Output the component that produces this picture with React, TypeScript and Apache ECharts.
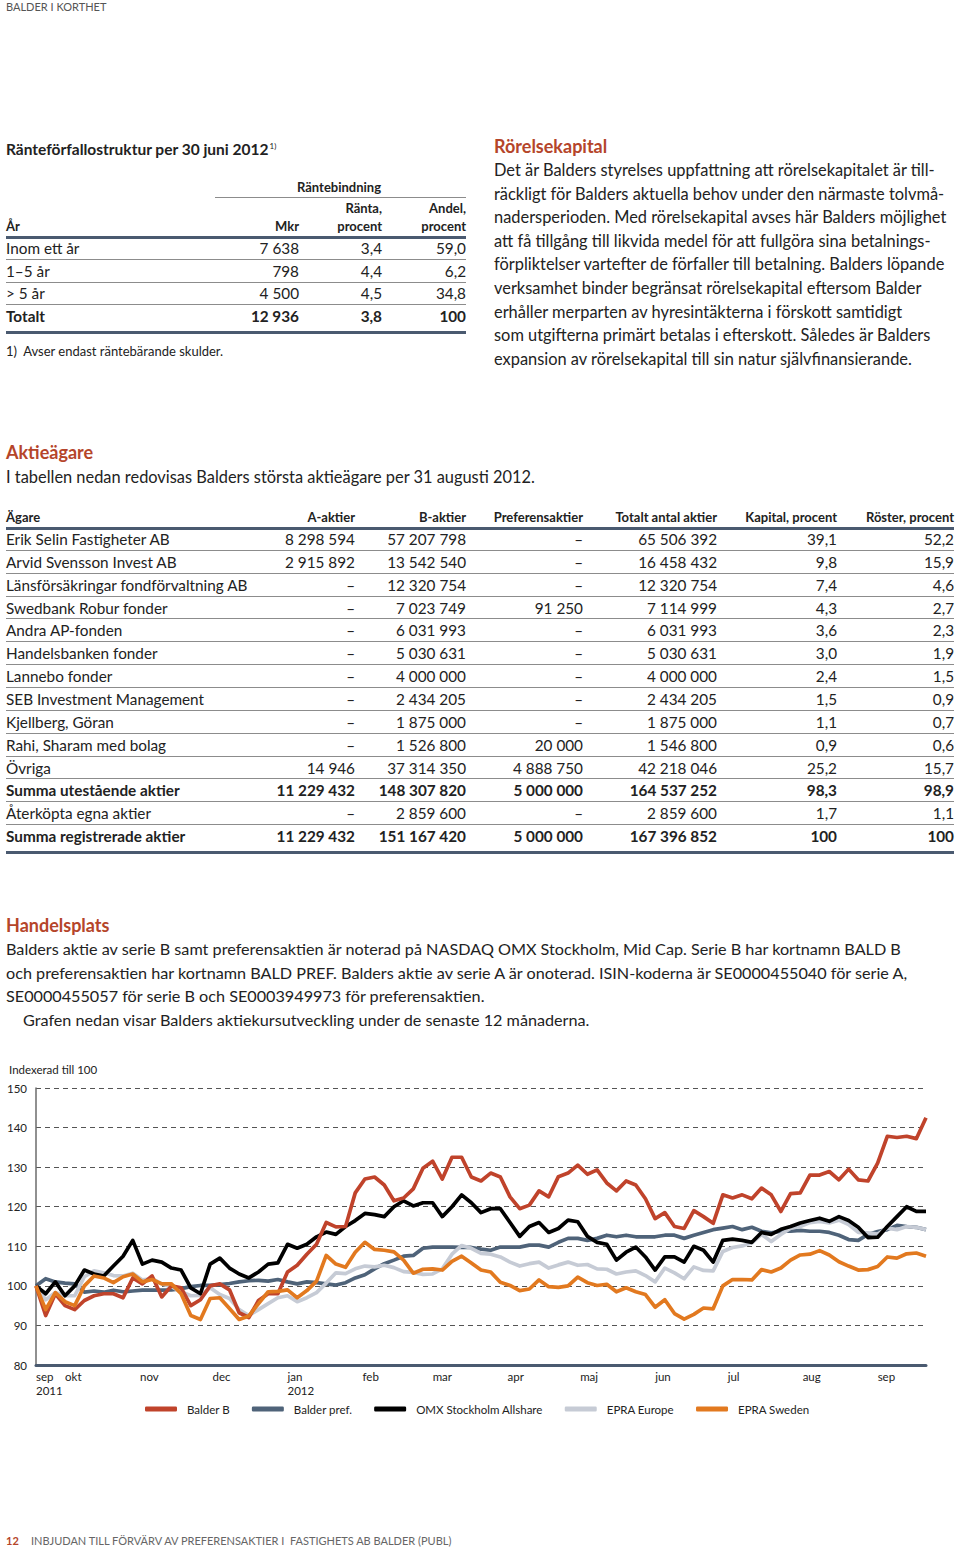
import React, { useEffect, useRef } from "react";
import * as echarts from "echarts";

const FONT = "Lato, 'Open Sans', 'DejaVu Sans', sans-serif";
const RUST = "#b5452a";
const SLATE = "#4a5a70";
const RULE = "#8c8c8c";
const INK = "#222";

// ---------- chart data (indexed to 100) ----------
const DATES = [
  "2011-09-19", "2011-09-23", "2011-09-27", "2011-10-01", "2011-10-05", "2011-10-09", "2011-10-13", "2011-10-17",
  "2011-10-21", "2011-10-25", "2011-10-29", "2011-11-02", "2011-11-06", "2011-11-10", "2011-11-14", "2011-11-18",
  "2011-11-22", "2011-11-26", "2011-11-30", "2011-12-04", "2011-12-08", "2011-12-12", "2011-12-16", "2011-12-20",
  "2011-12-24", "2011-12-28", "2012-01-01", "2012-01-05", "2012-01-09", "2012-01-13", "2012-01-17", "2012-01-21",
  "2012-01-25", "2012-01-29", "2012-02-02", "2012-02-06", "2012-02-10", "2012-02-14", "2012-02-18", "2012-02-22",
  "2012-02-26", "2012-03-01", "2012-03-05", "2012-03-09", "2012-03-13", "2012-03-17", "2012-03-21", "2012-03-25",
  "2012-03-29", "2012-04-02", "2012-04-06", "2012-04-10", "2012-04-14", "2012-04-18", "2012-04-22", "2012-04-26",
  "2012-04-30", "2012-05-04", "2012-05-08", "2012-05-12", "2012-05-16", "2012-05-20", "2012-05-24", "2012-05-28",
  "2012-06-01", "2012-06-05", "2012-06-09", "2012-06-13", "2012-06-17", "2012-06-21", "2012-06-25", "2012-06-29",
  "2012-07-03", "2012-07-07", "2012-07-11", "2012-07-15", "2012-07-19", "2012-07-23", "2012-07-27", "2012-07-31",
  "2012-08-04", "2012-08-08", "2012-08-12", "2012-08-16", "2012-08-20", "2012-08-24", "2012-08-28", "2012-09-01",
  "2012-09-05", "2012-09-09", "2012-09-13", "2012-09-17", "2012-09-21",
];

const BALDER_B = [
  100, 92.5, 98, 95, 94, 96.3, 97.5, 98, 98, 97, 102, 100.5, 102.5, 97.2, 100, 99.5,
  95, 96.5, 100, 100.5, 99, 93.2, 92, 96.3, 98, 98, 103.5, 105.2, 108, 110.5, 116, 114.9,
  115, 123.5, 127, 127.5, 125.5, 121.5, 122.2, 124.5, 129.7, 131.5, 127, 132.5, 132.5, 127.5,
  126.5, 128.5, 127.5, 122.5, 119.5, 120.4, 124, 122.5, 127.6, 128.5, 130.5, 128.2, 129.3, 126,
  124, 126.5, 125.5, 122, 117, 118.5, 115, 114.5, 119, 117.5, 115.8, 123, 122.2, 123, 122,
  124.7, 123, 118.8, 123.3, 123.5, 128, 128, 128.9, 126.8, 129.5, 126.8, 126.5, 131, 137.8,
  137.5, 137.8, 137.2, 142.5,
];

const BALDER_PREF = [
  100, 101.8, 101, 100.7, 100.5, 98.4, 98.7, 98.4, 98.9, 98.5, 98.7, 98.9, 98.9, 98.9, 99, 99.3,
  99.8, 100.1, 100.1, 100.3, 100.6, 101, 101.3, 101.4, 101.2, 101.6, 101, 100.5, 101, 100.8, 100.5, 100.2,
  100.8, 102, 102.8, 104.3, 105.6, 106.5, 107.5, 107.7, 109.5, 109.8, 109.8, 109.8, 109.7, 109.7,
  109.3, 109, 109.8, 109.8, 109.8, 110.3, 110.3, 109.8, 111, 112, 112, 111.5, 112, 112.8,
  112.4, 112.8, 112.4, 112.4, 112.4, 112.8, 112.8, 112, 112.8, 113.5, 114.2, 114.6, 115, 114.2, 114.8,
  113.8, 113.4, 113.8, 113.8, 114, 113.8, 113.8, 113.5, 112.8, 111.7, 111.5, 113, 113.7, 114.2,
  115.3, 115, 114.8, 114.2,
];

const OMX = [
  100, 98, 101, 97.5, 100, 104, 103, 102.5, 105, 107.5, 111.5, 105.5, 106.5, 106, 104.5, 104,
  99.5, 98, 105.5, 107, 104.5, 103, 102, 103.5, 105.5, 105.8, 110.5, 109.5, 110.5, 112.4, 113.6, 113,
  115, 116.5, 118.3, 118, 117.5, 120, 121.5, 120.2, 121, 121, 117.5, 120, 123, 121,
  118.5, 119.5, 119.5, 116, 112.5, 115, 116, 113.5, 114.5, 116.6, 116.2, 112.5, 111, 110.5,
  106.5, 108.5, 109.8, 107.3, 104, 107.3, 107.3, 106, 110, 109, 106, 111.5, 111.8, 111.5, 111,
  113.5, 113, 114.3, 115, 115.9, 116.5, 117.1, 116.3, 117.5, 116.5, 114.8, 112.2, 112.3, 115,
  117.5, 120, 118.8, 118.8,
];

const EPRA_EUROPE = [
  100, 96.5, 98.3, 97.5, 97.5, 102.3, 103.8, 103.3, 102.6, 102.5, 103.2, 101.5, 101.8, 100.5, 99.8, 98.5,
  97.5, 97.6, 99.5, 97.8, 96.8, 94, 92.5, 94, 95.5, 97, 97.5, 96, 97, 98.3, 100.7, 103.3,
  103.1, 104.3, 105, 104.8, 105.2, 104.6, 103.6, 103.4, 102.9, 103, 104.3, 108, 110.2, 109.5,
  108.2, 108, 107.3, 106, 105, 105.6, 106, 104.5, 105.3, 106, 105.2, 105.4, 104.3, 104.2,
  103, 103.5, 103.8, 102.6, 101, 104.5, 103.3, 101.8, 104.8, 103.9, 103.8, 108.7, 109.7, 110.1, 110.9,
  113, 111.2, 113, 114.6, 115, 116, 116.3, 115.9, 116.6, 115.5, 113.5, 113.4, 113.1, 114.6,
  114.2, 115, 114.8, 114.2,
];

const EPRA_SWEDEN = [
  100, 94, 98.3, 96, 95, 100, 102.5, 102, 100.8, 102.3, 103, 101, 101.6, 100.5, 100.5, 98,
  92.5, 91.5, 96.8, 97, 94.3, 91.5, 92.4, 95.5, 98.5, 98.6, 99, 97, 98.8, 101.2, 107.7, 105.5,
  104.7, 108.5, 111, 109.2, 109, 108.6, 106.5, 103.2, 104.2, 104.3, 104, 106.2, 107.5, 105.8,
  104, 103.5, 100.9, 100.1, 98.8, 99.2, 101.5, 99.8, 99.6, 100, 102.2, 100.8, 100.1, 100.4,
  98.5, 99.5, 98.5, 97.8, 94.6, 96.5, 93, 91.6, 92.8, 94.4, 94.2, 100, 101.6, 101.6, 101.5,
  104.1, 103.5, 104.5, 106.5, 107.8, 108, 108.9, 107.8, 106.1, 105, 104, 104.1, 104.9, 107.3,
  107, 108.1, 108.3, 107.5,
];

const MONTH_TICKS = [
  "2011-09-19", "2011-10-01", "2011-11-01", "2011-12-01", "2012-01-01", "2012-02-01", "2012-03-01",
  "2012-04-01", "2012-05-01", "2012-06-01", "2012-07-01", "2012-08-01", "2012-09-01",
];
const MONTH_LABELS = ["sep\n2011", "okt", "nov", "dec", "jan\n2012", "feb", "mar", "apr", "maj", "jun", "jul", "aug", "sep"];

const SERIES_NAMES = ["Balder B", "Balder pref.", "OMX Stockholm Allshare", "EPRA Europe", "EPRA Sweden"];
const SERIES_COLORS = ["#c0432b", "#4f6379", "#000000", "#c6cbd5", "#e2791f"];
const Y_MIN = 80;
const Y_MAX = 150;
const Y_STEP = 10;

// ---------- table data ----------
const RATE_HEAD = ["År", "Mkr", "Ränta,\nprocent", "Andel,\nprocent"];
const RATE_ROWS = [
  ["Inom ett år", "7 638", "3,4", "59,0"],
  ["1–5 år", "798", "4,4", "6,2"],
  ["> 5 år", "4 500", "4,5", "34,8"],
];
const RATE_TOTAL = ["Totalt", "12 936", "3,8", "100"];

const OWNER_HEAD = ["Ägare", "A-aktier", "B-aktier", "Preferensaktier", "Totalt antal aktier", "Kapital, procent", "Röster, procent"];
const OWNER_ROWS = [
  ["Erik Selin Fastigheter AB", "8 298 594", "57 207 798", "–", "65 506 392", "39,1", "52,2"],
  ["Arvid Svensson Invest AB", "2 915 892", "13 542 540", "–", "16 458 432", "9,8", "15,9"],
  ["Länsförsäkringar fondförvaltning AB", "–", "12 320 754", "–", "12 320 754", "7,4", "4,6"],
  ["Swedbank Robur fonder", "–", "7 023 749", "91 250", "7 114 999", "4,3", "2,7"],
  ["Andra AP-fonden", "–", "6 031 993", "–", "6 031 993", "3,6", "2,3"],
  ["Handelsbanken fonder", "–", "5 030 631", "–", "5 030 631", "3,0", "1,9"],
  ["Lannebo fonder", "–", "4 000 000", "–", "4 000 000", "2,4", "1,5"],
  ["SEB Investment Management", "–", "2 434 205", "–", "2 434 205", "1,5", "0,9"],
  ["Kjellberg, Göran", "–", "1 875 000", "–", "1 875 000", "1,1", "0,7"],
  ["Rahi, Sharam med bolag", "–", "1 526 800", "20 000", "1 546 800", "0,9", "0,6"],
  ["Övriga", "14 946", "37 314 350", "4 888 750", "42 218 046", "25,2", "15,7"],
  ["Summa utestående aktier", "11 229 432", "148 307 820", "5 000 000", "164 537 252", "98,3", "98,9"],
  ["Återköpta egna aktier", "–", "2 859 600", "–", "2 859 600", "1,7", "1,1"],
  ["Summa registrerade aktier", "11 229 432", "151 167 420", "5 000 000", "167 396 852", "100", "100"],
];
const OWNER_BOLD = ["Summa utestående aktier", "Summa registrerade aktier"];

const WC_LINES = [
  "Det är Balders styrelses uppfattning att rörelsekapitalet är till-",
  "räckligt för Balders aktuella behov under den närmaste tolvmå-",
  "nadersperioden. Med rörelsekapital avses här Balders möjlighet",
  "att få tillgång till likvida medel för att fullgöra sina betalnings-",
  "förpliktelser vartefter de förfaller till betalning. Balders löpande",
  "verksamhet binder begränsat rörelsekapital eftersom Balder",
  "erhåller merparten av hyresintäkterna i förskott samtidigt",
  "som utgifterna primärt betalas i efterskott. Således är Balders",
  "expansion av rörelsekapital till sin natur självfinansierande.",
];
const TRADE_LINES = [
  "Balders aktie av serie B samt preferensaktien är noterad på NASDAQ OMX Stockholm, Mid Cap. Serie B har kortnamn BALD B",
  "och preferensaktien har kortnamn BALD PREF. Balders aktie av serie A är onoterad. ISIN-koderna är SE0000455040 för serie A,",
  "SE0000455057 för serie B och SE0003949973 för preferensaktien.",
  "Grafen nedan visar Balders aktiekursutveckling under de senaste 12 månaderna.",
];

const toTs = (s: string) => {
  const [y, m, d] = s.split("-").map(Number);
  return Date.UTC(y, m - 1, d);
};

type TProps = {
  x: number;
  y: number;
  size?: number;
  bold?: boolean;
  color?: string;
  right?: boolean;
  children: React.ReactNode;
};

function T({ x, y, size = 15.3, bold, color = INK, right, children }: TProps) {
  const lh = 20;
  const style: React.CSSProperties = {
    position: "absolute",
    top: y - lh / 2,
    lineHeight: lh + "px",
    fontSize: size,
    fontWeight: bold ? 700 : 400,
    color,
    whiteSpace: "nowrap",
    fontFamily: FONT,
  };
  if (right) {
    style.right = 960 - x;
    style.textAlign = "right";
  } else {
    style.left = x;
  }
  return <div style={style}>{children}</div>;
}

function Rule({ x1, x2, y, h = 1, color = RULE }: { x1: number; x2: number; y: number; h?: number; color?: string }) {
  return (
    <div
      style={{ position: "absolute", left: x1, width: x2 - x1, top: y - h / 2, height: h, background: color }}
    />
  );
}

function Chart() {
  const ref = useRef<HTMLDivElement>(null);
  useEffect(() => {
    if (!ref.current) return;
    const chart = echarts.init(ref.current, undefined, { renderer: "svg" });
    const tickTs = MONTH_TICKS.map(toTs);
    const seriesData = [BALDER_B, BALDER_PREF, OMX, EPRA_EUROPE, EPRA_SWEDEN];
    const drawOrder = [1, 3, 2, 0, 4];
    chart.setOption({
      animation: false,
      title: {
        text: "Indexerad till 100",
        left: 9,
        top: 3,
        padding: 0,
        textStyle: { fontSize: 11.5, fontWeight: "normal", color: INK, fontFamily: FONT },
      },
      legend: {
        data: SERIES_NAMES,
        left: 140,
        top: 338,
        itemWidth: 32,
        itemHeight: 5,
        itemGap: 22,
        icon: "roundRect",
        textStyle: { fontSize: 11.5, color: INK, fontFamily: FONT, padding: [0, 0, 0, 5] },
      },
      grid: { left: 36, right: 34, top: 28, bottom: 65 },
      xAxis: {
        type: "value",
        min: toTs(DATES[0]),
        max: toTs(DATES[DATES.length - 1]),
        axisLine: { show: true, lineStyle: { color: SLATE, width: 3 } },
        axisTick: { show: false },
        splitLine: { show: false },
        axisLabel: {
          customValues: tickTs,
          align: "left",
          margin: 4,
          fontSize: 11.5,
          lineHeight: 14,
          color: INK,
          fontFamily: FONT,
          formatter: (v: number) => {
            let best = -1;
            let bestD = Infinity;
            tickTs.forEach((t, i) => {
              const d = Math.abs(t - v);
              if (d < bestD) {
                bestD = d;
                best = i;
              }
            });
            return bestD < 2 * 86400000 ? MONTH_LABELS[best] : "";
          },
        },
      },
      yAxis: {
        type: "value",
        min: Y_MIN,
        max: Y_MAX,
        interval: Y_STEP,
        axisLine: { show: true, lineStyle: { color: "#6b6b6b", width: 1.5 } },
        axisTick: { show: false },
        axisLabel: { fontSize: 11.5, color: INK, margin: 9, fontFamily: FONT },
        splitLine: { lineStyle: { type: [5, 4], color: "#555", width: 1 } },
      },
      series: drawOrder.map((k, z) => ({
        name: SERIES_NAMES[k],
        type: "line",
        showSymbol: false,
        symbol: "none",
        z: 2 + z,
        color: SERIES_COLORS[k],
        lineStyle: { width: 3.7, color: SERIES_COLORS[k], join: "round" },
        data: DATES.map((d, i) => [toTs(d), seriesData[k][i]]),
      })),
    });
    return () => chart.dispose();
  }, []);
  return <div ref={ref} style={{ position: "absolute", left: 0, top: 1060, width: 960, height: 370 }} />;
}

export default function App() {
  const rateCols = [299, 382, 466];
  const ownerCols = [355, 466, 583, 717, 837, 954];
  const ownerY0 = 539;
  const ownerStep = 22.85;
  return (
    <div
      style={{
        position: "absolute",
        left: 0,
        top: 0,
        width: 960,
        height: 1549,
        background: "#fff",
        fontFamily: FONT,
        color: INK,
        overflow: "hidden",
      }}
    >
      <T x={6} y={7} size={11} color="#555">BALDER I KORTHET</T>

      {/* Ränteförfallostruktur */}
      <T x={6} y={146} size={15.5} bold>
        Ränteförfallostruktur per 30 juni 2012
        <sup style={{ fontSize: 8, fontWeight: 400, marginLeft: 1 }}>1)</sup>
      </T>
      <T x={297} y={187} size={13} bold>Räntebindning</T>
      <Rule x1={215} x2={466} y={197} />
      <T x={rateCols[1]} y={208} size={13} bold right>Ränta,</T>
      <T x={rateCols[1]} y={226} size={13} bold right>procent</T>
      <T x={rateCols[2]} y={208} size={13} bold right>Andel,</T>
      <T x={rateCols[2]} y={226} size={13} bold right>procent</T>
      <T x={6} y={226} size={13} bold>{RATE_HEAD[0]}</T>
      <T x={rateCols[0]} y={226} size={13} bold right>{RATE_HEAD[1]}</T>
      <Rule x1={6} x2={466} y={237} h={3} color={SLATE} />
      {RATE_ROWS.map((r, i) => {
        const y = 248 + i * 22.7;
        return (
          <React.Fragment key={i}>
            <T x={6} y={y}>{r[0]}</T>
            {r.slice(1).map((c, j) => (
              <T key={j} x={rateCols[j]} y={y} right>{c}</T>
            ))}
            <Rule x1={6} x2={466} y={y + 11.4} />
          </React.Fragment>
        );
      })}
      <T x={6} y={316} bold>{RATE_TOTAL[0]}</T>
      {RATE_TOTAL.slice(1).map((c, j) => (
        <T key={j} x={rateCols[j]} y={316} bold right>{c}</T>
      ))}
      <Rule x1={6} x2={466} y={332} h={3} color={SLATE} />
      <T x={6} y={351} size={13}>1)&nbsp;&nbsp;Avser endast räntebärande skulder.</T>

      {/* Rörelsekapital */}
      <T x={494} y={146} size={18} bold color={RUST}>Rörelsekapital</T>
      {WC_LINES.map((l, i) => (
        <T key={i} x={494} y={170 + i * 23.6} size={16.4}>{l}</T>
      ))}

      {/* Aktieägare */}
      <T x={6} y={452} size={18} bold color={RUST}>Aktieägare</T>
      <T x={6} y={477} size={16.4}>I tabellen nedan redovisas Balders största aktieägare per 31 augusti 2012.</T>
      <T x={6} y={517} size={13} bold>{OWNER_HEAD[0]}</T>
      {OWNER_HEAD.slice(1).map((h, j) => (
        <T key={j} x={ownerCols[j]} y={517} size={13} bold right>{h}</T>
      ))}
      <Rule x1={6} x2={954} y={528} h={3} color={SLATE} />
      {OWNER_ROWS.map((r, i) => {
        const y = ownerY0 + i * ownerStep;
        const bold = OWNER_BOLD.includes(r[0]);
        const last = i === OWNER_ROWS.length - 1;
        return (
          <React.Fragment key={i}>
            <T x={6} y={y} bold={bold}>{r[0]}</T>
            {r.slice(1).map((c, j) => (
              <T key={j} x={ownerCols[j]} y={y} bold={bold} right>{c}</T>
            ))}
            {last ? (
              <Rule x1={6} x2={954} y={852} h={3} color={SLATE} />
            ) : (
              <Rule x1={6} x2={954} y={y + 11.4} />
            )}
          </React.Fragment>
        );
      })}

      {/* Handelsplats */}
      <T x={6} y={925} size={18} bold color={RUST}>Handelsplats</T>
      {TRADE_LINES.map((l, i) => (
        <T key={i} x={i === 3 ? 23 : 6} y={949 + i * 23.6} size={16.2}>{l}</T>
      ))}

      <Chart />

      <T x={6} y={1541} size={11} bold color={RUST}>12</T>
      <T x={31} y={1541} size={11} color="#666">
        INBJUDAN TILL FÖRVÄRV AV PREFERENSAKTIER I&nbsp;&nbsp;FASTIGHETS AB BALDER (PUBL)
      </T>
    </div>
  );
}
